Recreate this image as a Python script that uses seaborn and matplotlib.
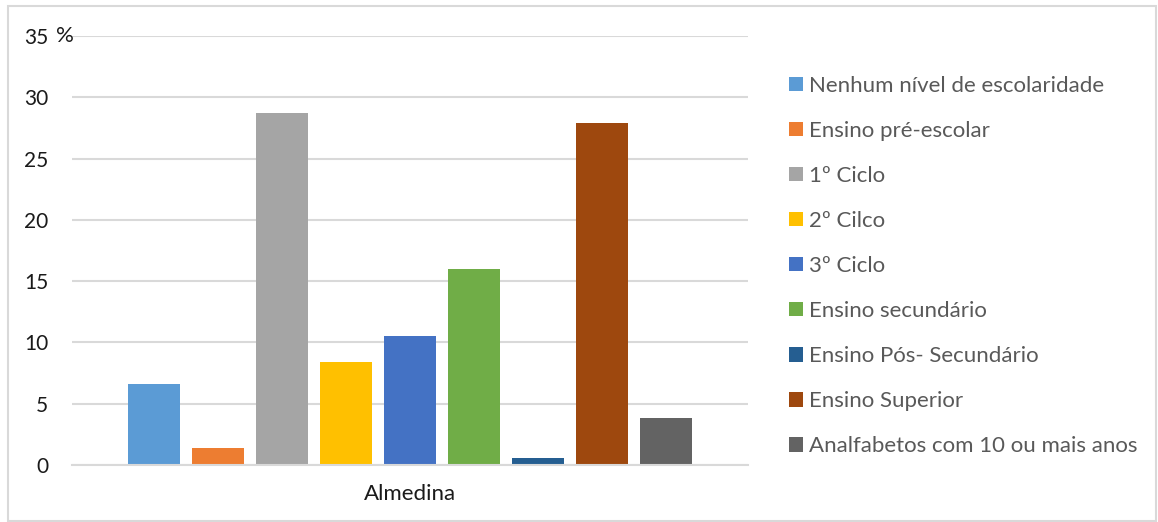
import pandas as pd
import seaborn as sns
import matplotlib.pyplot as plt
from matplotlib.patches import Rectangle

# Data (percent of population, Almedina)
categories = ['Nenhum nível de escolaridade', 'Ensino pré-escolar', '1º Ciclo', '2º Cilco',
              '3º Ciclo', 'Ensino secundário', 'Ensino Pós- Secundário', 'Ensino Superior',
              'Analfabetos com 10 ou mais anos']
values = [6.6, 1.4, 28.7, 8.4, 10.5, 16.0, 0.6, 27.9, 3.8]
group = ['Almedina'] * len(categories)
colors = ['#5B9BD5', '#ED7D31', '#A5A5A5', '#FFC000', '#4472C4',
          '#70AD47', '#255E91', '#9E480E', '#636363']
yticks = [0, 5, 10, 15, 20, 25, 30, 35]

df = pd.DataFrame({'local': group, 'nivel': categories, 'pct': values})

sns.set_style('white')
plt.rcParams['font.family'] = ['Lato', 'DejaVu Sans']

fig = plt.figure(figsize=(11.58, 5.22), dpi=100)
W, H = 1158, 522
ax = fig.add_axes([72 / W, 1 - 465 / H, (748 - 72) / W, (465 - 36) / H])

sns.barplot(data=df, x='local', y='pct', hue='nivel', hue_order=categories,
            palette=colors, width=0.852, gap=0.18, saturation=1, linewidth=0,
            ax=ax, legend=True)

ax.set_xlim(-0.5, 0.5)
ax.set_ylim(0, 35)
ax.set_yticks(yticks)
ax.yaxis.grid(True, color='#d9d9d9', linewidth=1.5)
ax.set_axisbelow(True)
for s in ['top', 'right', 'left']:
    ax.spines[s].set_visible(False)
ax.spines['bottom'].set_color('#d9d9d9')
ax.spines['bottom'].set_linewidth(1.5)
ax.tick_params(axis='y', length=0, pad=17, labelsize=15, labelcolor='#1a1a1a')
ax.tick_params(axis='x', length=0, pad=14, labelsize=16, labelcolor='#1a1a1a')
ax.set_xlabel('')
ax.set_ylabel('')

# '%' sitting right after the top tick label
ax.text(-16 / 676, 35, '%', transform=ax.get_yaxis_transform(), ha='left', va='center',
        fontsize=16, color='#1a1a1a')

handles, labels = ax.get_legend_handles_labels()
ax.legend(handles, labels, loc='center left', bbox_to_anchor=(789 / W, 1 - 266 / H),
          bbox_transform=fig.transFigure, frameon=False, fontsize=16,
          labelcolor='#595959', handlelength=0.62, handleheight=0.62,
          handletextpad=0.3, labelspacing=1.13, borderpad=0, borderaxespad=0)

fig.add_artist(Rectangle((8 / W, 1 / H), 1148 / W, 1 - 7 / H, transform=fig.transFigure,
                         fill=False, edgecolor='#d9d9d9', linewidth=1.5))

fig.savefig('out.png', dpi=100)
